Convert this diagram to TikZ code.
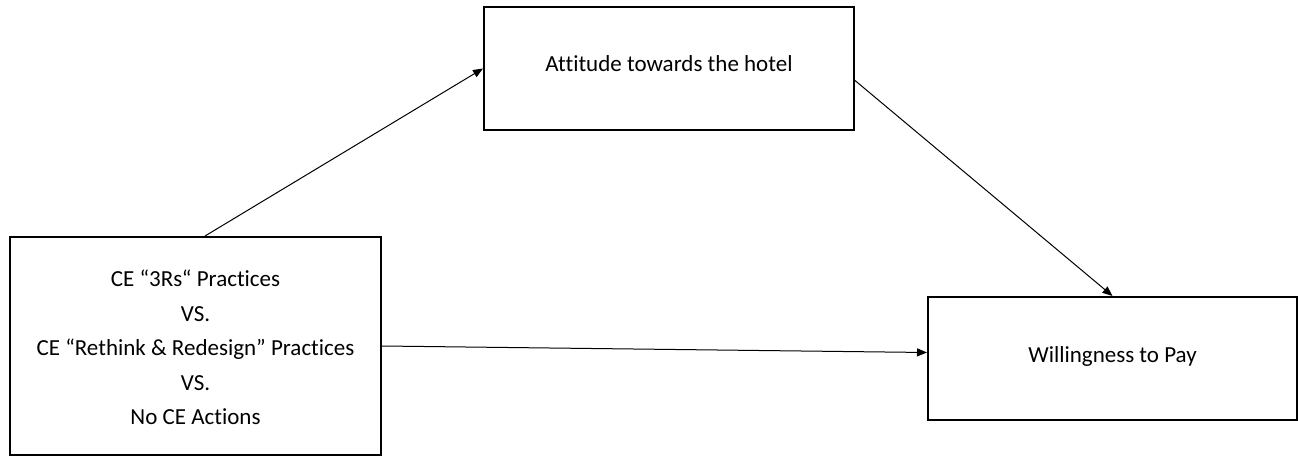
\documentclass[tikz,border=0pt]{standalone}
\usepackage{fontspec}
\setmainfont{Carlito}[Ligatures=NoCommon]
\usetikzlibrary{arrows.meta,calc}
\newcommand{\liftby}[2]{\raisebox{#1}[\height][\depth]{#2}}
\begin{document}
\begin{tikzpicture}[x=1pt,y=-1pt,
  box/.style={draw=black, line width=2pt, inner sep=0pt, align=center,
    font=\fontsize{23}{34.5}\selectfont},
  conn/.style={draw=black, line width=1pt, -{Triangle[length=10pt,width=8pt]}}]
\useasboundingbox (0,0) rectangle (1298,457);
\node[box, minimum width=371pt, minimum height=218pt] (l) at (195.5,346)
  {\liftby{-3pt}{\begin{tabular}{@{}c@{}}CE “3Rs“ Practices\\VS.\\CE “Rethink \& Redesign” Practices\\VS.\\No CE Actions\end{tabular}}};
\node[box, minimum width=370pt, minimum height=123pt] (t) at (669,68.5)
  {\liftby{5pt}{Attitude towards the hotel}};
\node[box, minimum width=369pt, minimum height=123pt] (r) at (1112.5,358.5)
  {\liftby{2pt}{Willingness to Pay}};
\draw[conn] ($(l.north)+(9.5,0)$) -- (t.west);
\draw[conn] ($(t.east)+(0,12)$) -- (r.north);
\draw[conn] (l.east) -- ($(r.west)+(0,-6)$);
\end{tikzpicture}
\end{document}
